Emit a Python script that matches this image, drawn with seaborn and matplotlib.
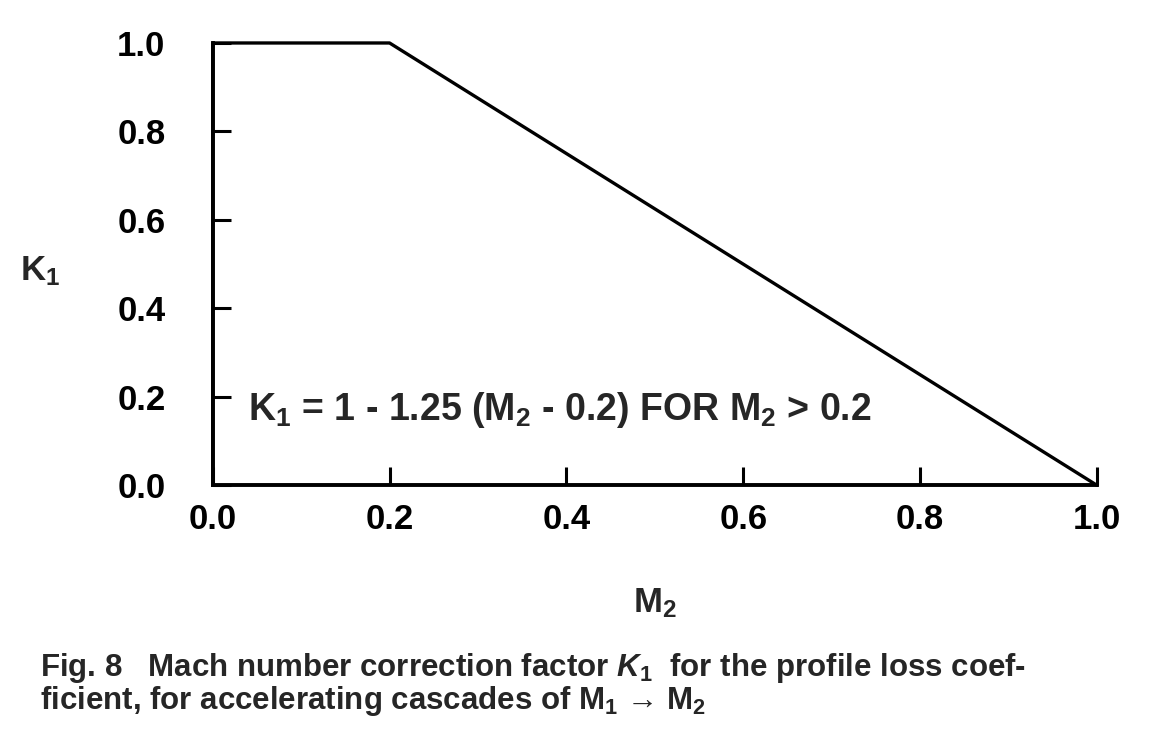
import seaborn as sns
import matplotlib.pyplot as plt
import pandas as pd

# K1 correction factor curve (corner points of the piecewise line)
m2_values = [0.0, 0.0, 0.2, 1.0]
k1_values = [0.0, 1.0, 1.0, 0.0]
x_ticks = [0.0, 0.2, 0.4, 0.6, 0.8, 1.0]
x_tick_labels = ["0.0", "0.2", "0.4", "0.6", "0.8", "1.0"]
y_ticks = [0.0, 0.2, 0.4, 0.6, 0.8, 1.0]
y_tick_labels = ["0.0", "0.2", "0.4", "0.6", "0.8", "1.0"]

df = pd.DataFrame({"M2": m2_values, "K1": k1_values})

sns.set_style("ticks")
plt.rcParams["font.family"] = ["Liberation Sans", "DejaVu Sans"]
plt.rcParams["font.weight"] = "bold"
plt.rcParams["mathtext.fontset"] = "custom"
plt.rcParams["mathtext.rm"] = "Liberation Sans:bold"
plt.rcParams["mathtext.it"] = "Liberation Sans:italic:bold"
plt.rcParams["mathtext.bf"] = "Liberation Sans:bold"

fig = plt.figure(figsize=(11.56, 7.41), dpi=100, facecolor="white")
ax = fig.add_axes([0.184, 0.345, 0.765, 0.597])

# estimator=None keeps both points at M2 = 0 (vertical segment)
sns.lineplot(data=df, x="M2", y="K1", sort=False, estimator=None,
             color="black", linewidth=2.4, ax=ax, clip_on=False)

ax.set_xlim(0, 1.0)
ax.set_ylim(0, 1.0)
ax.set_xticks(x_ticks)
ax.set_xticklabels(x_tick_labels)
ax.set_yticks(y_ticks)
ax.set_yticklabels(y_tick_labels)
ax.tick_params(direction="in", length=13, width=2.2, labelsize=25,
               colors="black")
ax.tick_params(axis="x", pad=13)
ax.tick_params(axis="y", pad=34)
for lab in ax.get_xticklabels() + ax.get_yticklabels():
    lab.set_fontweight("bold")

sns.despine(ax=ax)
for side in ["left", "bottom"]:
    ax.spines[side].set_linewidth(2.8)
    ax.spines[side].set_color("black")

ax.set_xlabel(r"M$_\mathregular{2}$", fontsize=25, fontweight="bold",
              labelpad=36)
ax.set_ylabel(r"K$_\mathregular{1}$", fontsize=25, fontweight="bold",
              rotation=0, va="center", ha="center")
ax.yaxis.set_label_coords(-0.195, 0.485)

ax.text(0.04, 0.17,
        r"K$_\mathregular{1}$ = 1 - 1.25 (M$_\mathregular{2}$ - 0.2) FOR M$_\mathregular{2}$ > 0.2",
        fontsize=27, fontweight="bold", va="center", ha="left",
        transform=ax.transData)

fig.text(0.035, 0.099,
         r"Fig. 8   Mach number correction factor $\mathit{K}_\mathregular{1}$  for the profile loss coef-",
         fontsize=22.5, fontweight="bold", va="center", ha="left")
fig.text(0.035, 0.054,
         r"ficient, for accelerating cascades of M$_\mathregular{1}$ → M$_\mathregular{2}$",
         fontsize=22.5, fontweight="bold", va="center", ha="left")

plt.savefig("out.png", dpi=100, facecolor="white")
plt.close(fig)
